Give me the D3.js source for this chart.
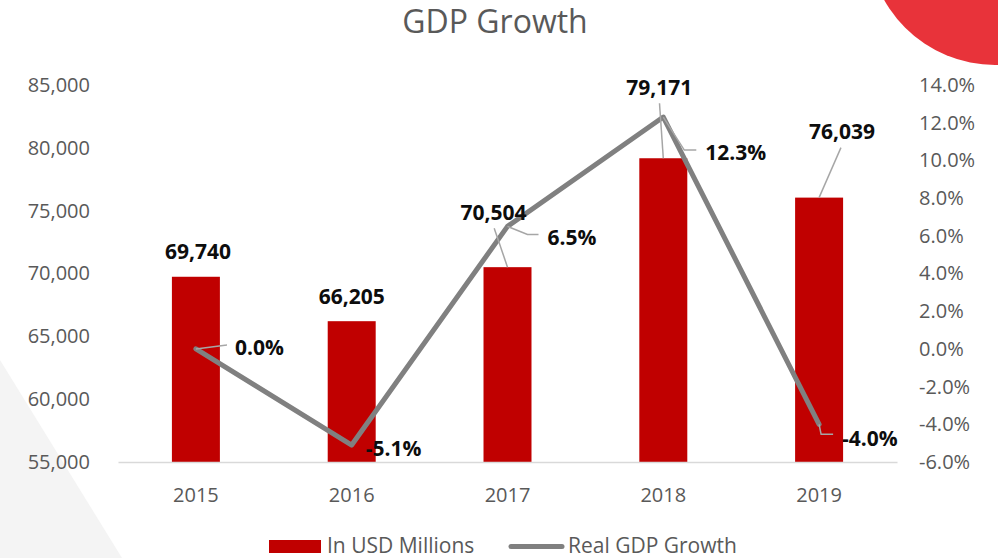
<!DOCTYPE html>
<html>
<head>
<meta charset="utf-8">
<script src="https://cdn.jsdelivr.net/npm/d3@7"></script>
<style>
  html, body { margin: 0; padding: 0; background: #ffffff; }
  svg { display: block; font-family: "Open Sans", "Noto Sans", sans-serif; }
</style>
</head>
<body>
<svg id="chart" width="998" height="558"></svg>
<script>
// ---- data ----
const years = ["2015", "2016", "2017", "2018", "2019"];
const gdpUsdMillions = [69740, 66205, 70504, 79171, 76039];
const realGdpGrowthPct = [0.0, -5.1, 6.5, 12.3, -4.0];
const leftTicks = [55000, 60000, 65000, 70000, 75000, 80000, 85000];
const rightTicks = [-6, -4, -2, 0, 2, 4, 6, 8, 10, 12, 14];
const seriesNames = ["In USD Millions", "Real GDP Growth"];

// ---- layout ----
const plot = { left: 118, right: 897, top: 85, bottom: 462 };
const BAR_COLOR = "#c00000";
const LINE_COLOR = "#808080";
const TEXT_GRAY = "#595959";
const LEADER = "#a6a6a6";

// label placement: offsets of value labels from their marks
// bar labels: [dx, dy] of label centre from bar top-centre, plus whether a leader is drawn
const barLabelOffset = [[2, -25, false], [0, -25, false], [-14, -55, true], [-4, -71, true], [23, -66, true]];
// growth labels: [dx, dy] of label left edge / centre from the point, leader elbow [ex, ey] or null
const pctLabelOffset = [
  [39, -1, [31, -4]],
  [14, 3, null],
  [40, 11, [20, 8]],
  [42, 35, [21, 33]],
  [23, 14, [2, 10]]
];

const svg = d3.select("#chart");

// decorative background shapes
svg.append("path")
  .attr("d", "M0,360 L122,558 L0,558 Z")
  .attr("fill", "#f4f4f4");
svg.append("circle")
  .attr("cx", 995).attr("cy", -62).attr("r", 127)
  .attr("fill", "#e8333a");

// ---- scales ----
const x = d3.scaleBand()
  .domain(years)
  .range([plot.left, plot.right])
  .paddingInner(0.692)
  .paddingOuter(0.346);

const yLeft = d3.scaleLinear()
  .domain([55000, 85000])
  .range([plot.bottom, plot.top]);

const yRight = d3.scaleLinear()
  .domain([-6, 14])
  .range([plot.bottom, plot.top]);

// number formats using a plain hyphen for negatives
const locale = d3.formatLocale({ decimal: ".", thousands: ",", grouping: [3], currency: ["$", ""], minus: "-" });
const fmtThousands = locale.format(",");
const fmtOneDecimal = locale.format(".1f");
const fmtPct = d => fmtOneDecimal(d) + "%";

// ---- title ----
svg.append("text")
  .attr("x", 495).attr("y", 33)
  .attr("text-anchor", "middle")
  .attr("font-size", 32)
  .attr("fill", TEXT_GRAY)
  .text("GDP Growth");

// ---- axes ----
const axisLeft = d3.axisLeft(yLeft)
  .tickValues(leftTicks)
  .tickFormat(fmtThousands)
  .tickSize(0)
  .tickPadding(28);
const gLeft = svg.append("g")
  .attr("transform", `translate(${plot.left},0)`)
  .call(axisLeft);
gLeft.select(".domain").remove();
gLeft.selectAll("text")
  .attr("font-family", "Open Sans")
  .attr("font-size", 20)
  .attr("fill", TEXT_GRAY);

const axisRight = d3.axisRight(yRight)
  .tickValues(rightTicks)
  .tickFormat(fmtPct)
  .tickSize(0)
  .tickPadding(22);
const gRight = svg.append("g")
  .attr("transform", `translate(${plot.right},0)`)
  .call(axisRight);
gRight.select(".domain").remove();
gRight.selectAll("text")
  .attr("font-family", "Open Sans")
  .attr("font-size", 20)
  .attr("fill", TEXT_GRAY);

// ---- bars ----
const barData = years.map((yr, i) => ({ year: yr, value: gdpUsdMillions[i], i }));
svg.append("g")
  .selectAll("rect")
  .data(barData)
  .join("rect")
  .attr("x", d => x(d.year))
  .attr("y", d => yLeft(d.value))
  .attr("width", x.bandwidth())
  .attr("height", d => yLeft(55000) - yLeft(d.value))
  .attr("fill", BAR_COLOR);

// category axis (drawn over the bar bases)
const axisBottom = d3.axisBottom(x)
  .tickSize(0)
  .tickSizeOuter(0)
  .tickPadding(26);
const gBottom = svg.append("g")
  .attr("transform", `translate(0,${plot.bottom})`)
  .call(axisBottom);
gBottom.select(".domain")
  .attr("stroke", "#d9d9d9")
  .attr("stroke-width", 1.5);
gBottom.selectAll("text")
  .attr("font-family", "Open Sans")
  .attr("font-size", 20)
  .attr("fill", TEXT_GRAY);

// ---- growth line ----
const lineData = years.map((yr, i) => ({ year: yr, value: realGdpGrowthPct[i], i }));
const cx = d => x(d.year) + x.bandwidth() / 2;
const line = d3.line()
  .x(cx)
  .y(d => yRight(d.value));
svg.append("path")
  .datum(lineData)
  .attr("d", line)
  .attr("fill", "none")
  .attr("stroke", LINE_COLOR)
  .attr("stroke-width", 5)
  .attr("stroke-linejoin", "round")
  .attr("stroke-linecap", "round");

// ---- bar value labels with leaders ----
const gBarLabels = svg.append("g");
barData.forEach(d => {
  const bx = cx(d), by = yLeft(d.value);
  const [dx, dy, leader] = barLabelOffset[d.i];
  const lx = bx + dx, ly = by + dy;
  if (leader) {
    gBarLabels.append("line")
      .attr("x1", bx).attr("y1", by)
      .attr("x2", lx - dx * 0.05).attr("y2", ly + 16)
      .attr("stroke", LEADER)
      .attr("stroke-width", 1.5);
  }
  gBarLabels.append("text")
    .attr("x", lx).attr("y", ly + 7.5)
    .attr("text-anchor", "middle")
    .attr("font-size", 21)
    .attr("font-weight", 700)
    .attr("fill", "#0d0d0d")
    .text(fmtThousands(d.value));
});

// ---- growth value labels with leaders ----
const gPctLabels = svg.append("g");
lineData.forEach(d => {
  const px = cx(d), py = yRight(d.value);
  const [dx, dy, elbow] = pctLabelOffset[d.i];
  if (elbow) {
    const ex = px + elbow[0], ey = py + elbow[1];
    gPctLabels.append("path")
      .attr("d", `M${px},${py} L${ex},${ey} L${px + dx - 9},${ey}`)
      .attr("fill", "none")
      .attr("stroke", LEADER)
      .attr("stroke-width", 1.5);
  }
  gPctLabels.append("text")
    .attr("x", px + dx).attr("y", py + dy + 7.5)
    .attr("font-size", 21)
    .attr("font-weight", 700)
    .attr("fill", "#0d0d0d")
    .text(fmtPct(d.value));
});

// ---- legend ----
const gLegend = svg.append("g");
gLegend.append("rect")
  .attr("x", 269).attr("y", 540)
  .attr("width", 52).attr("height", 13)
  .attr("fill", BAR_COLOR);
gLegend.append("text")
  .attr("x", 327).attr("y", 553)
  .attr("font-size", 21)
  .attr("fill", TEXT_GRAY)
  .text(seriesNames[0]);
gLegend.append("line")
  .attr("x1", 511).attr("x2", 562)
  .attr("y1", 546.5).attr("y2", 546.5)
  .attr("stroke", LINE_COLOR)
  .attr("stroke-width", 5)
  .attr("stroke-linecap", "round");
gLegend.append("text")
  .attr("x", 568).attr("y", 553)
  .attr("font-size", 21)
  .attr("fill", TEXT_GRAY)
  .text(seriesNames[1]);
</script>
</body>
</html>
